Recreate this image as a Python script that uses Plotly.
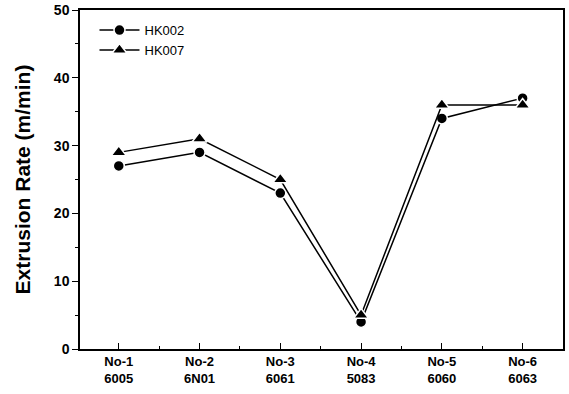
import plotly.graph_objects as go

categories = ["No-1<br>6005", "No-2<br>6N01", "No-3<br>6061", "No-4<br>5083", "No-5<br>6060", "No-6<br>6063"]
hk002 = [27, 29, 23, 4, 34, 37]
hk007 = [29, 31, 25, 5, 36, 36]
yticks = [0, 10, 20, 30, 40, 50]

xs = list(range(len(categories)))
fig = go.Figure()
fig.add_trace(go.Scatter(x=xs, y=hk002, name="HK002", mode="lines+markers",
                         line=dict(color="black", width=1.5),
                         marker=dict(symbol="circle", size=11, color="black",
                                     line=dict(color="white", width=1.5))))
fig.add_trace(go.Scatter(x=xs, y=hk007, name="HK007", mode="lines+markers",
                         line=dict(color="black", width=1.5),
                         marker=dict(symbol="triangle-up", size=13, color="black",
                                     line=dict(color="white", width=1.5))))

fig.update_layout(
    width=569, height=394,
    margin=dict(l=80, r=6, t=10, b=45),
    plot_bgcolor="white", paper_bgcolor="white",
    font=dict(family="Liberation Sans, Arial, sans-serif", color="black"),
    showlegend=True,
    legend=dict(x=0.03, y=0.985, xanchor="left", yanchor="top",
                bgcolor="rgba(0,0,0,0)", font=dict(size=13),
                itemwidth=40, tracegroupgap=0),
)
fig.update_xaxes(
    range=[-0.48, 5.5], tickmode="array", tickvals=xs, ticktext=categories,
    ticks="inside", ticklen=6, tickwidth=1, tickcolor="black",
    showline=True, linecolor="black", linewidth=1.5, mirror=True,
    showgrid=False, zeroline=False, automargin=False,
    tickfont=dict(size=13, family="Liberation Sans, Arial, sans-serif", weight="bold"),
    minor=dict(tickmode="array", tickvals=[0.5, 1.5, 2.5, 3.5, 4.5], ticks="inside",
               ticklen=3, tickcolor="black", showgrid=False),
)
fig.update_yaxes(
    range=[0, 50], tickmode="array", tickvals=yticks,
    ticks="outside", ticklen=6, tickwidth=1, tickcolor="black",
    showline=True, linecolor="black", linewidth=1.5, mirror=True,
    showgrid=False, zeroline=False, automargin=False,
    ticklabeloverflow="allow",
    tickfont=dict(size=14, weight="bold"),
    title=dict(text="Extrusion Rate (m/min)", font=dict(size=21, weight="bold"), standoff=18),
    minor=dict(tickmode="array", tickvals=[5, 15, 25, 35, 45], ticks="outside",
               ticklen=3, tickcolor="black", showgrid=False),
)
fig.write_html("out.html")
